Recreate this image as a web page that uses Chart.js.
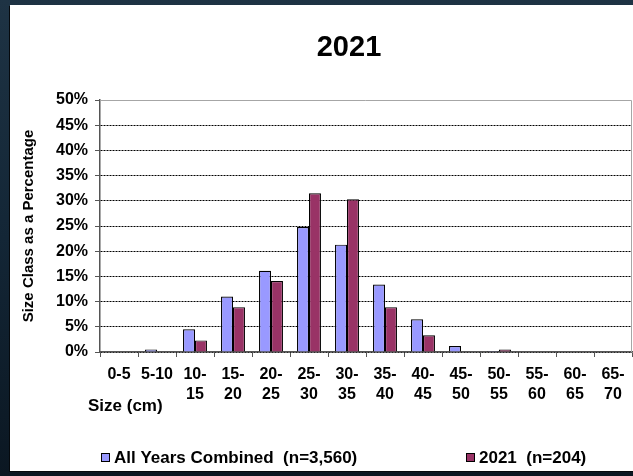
<!DOCTYPE html>
<html><head><meta charset="utf-8">
<script src="https://cdn.jsdelivr.net/npm/chart.js@4/dist/chart.umd.min.js"></script>
<style>
html,body{margin:0;padding:0;width:633px;height:476px;overflow:hidden;}
body{position:relative;background:linear-gradient(180deg,#1e3344 0%,#132636 50%,#0b1722 100%);}
#panel{position:absolute;left:10px;top:5px;width:678px;height:466px;background:#fff;box-shadow:-1px 1px 0 #05090d;}
canvas{display:block}
</style></head><body>
<div id="panel"><canvas id="c" width="678" height="466"></canvas></div>
<script>
const chartTitle = "2021";
const categories = [["0-5"],["5-10"],["10-","15"],["15-","20"],["20-","25"],["25-","30"],["30-","35"],["35-","40"],["40-","45"],["45-","50"],["50-","55"],["55-","60"],["60-","65"],["65-","70"]];
const allYearsLabel = "All Years Combined  (n=3,560)";
const allYears = [0, 0.5, 4.5, 11.0, 16.1, 24.8, 21.3, 13.4, 6.5, 1.2, 0.2, 0, 0, 0];
const year2021Label = "2021  (n=204)";
const year2021 = [0, 0, 2.3, 8.9, 14.1, 31.5, 30.3, 8.9, 3.3, 0, 0.5, 0, 0, 0];
const yAxisTitle = "Size Class as a Percentage";
const xAxisTitle = "Size (cm)";
const yMax = 50, yStep = 5;

const FONT = '"Liberation Sans", Arial, sans-serif';

const extras = {
  id: 'extras',
  beforeDatasetsDraw(chart) {
    const a = chart.chartArea, ctx = chart.ctx;
    ctx.save();
    ctx.strokeStyle = '#a6a6a6';
    ctx.lineWidth = 1;
    ctx.beginPath();
    ctx.moveTo(a.left, Math.round(a.top) + 0.5);
    ctx.lineTo(Math.round(a.right) - 0.5, Math.round(a.top) + 0.5);
    ctx.lineTo(Math.round(a.right) - 0.5, a.bottom);
    ctx.stroke();
    ctx.restore();
  },
  afterDraw(chart) {
    const a = chart.chartArea, ctx = chart.ctx;
    ctx.save();
    ctx.fillStyle = '#000';
    ctx.textBaseline = 'middle';
    // chart title
    ctx.textAlign = 'center';
    ctx.font = 'bold 29px ' + FONT;
    ctx.fillText(chartTitle, chart.width / 2, 43);
    // x axis title
    ctx.textAlign = 'left';
    ctx.font = 'bold 17px ' + FONT;
    ctx.fillText(xAxisTitle, a.left - 12, a.bottom + 54);
    // legend
    const ds = chart.data.datasets;
    const xs = [a.left + 1, a.left + 366];
    const ly = a.bottom + 106;
    ds.forEach((d, i) => {
      ctx.fillStyle = d.backgroundColor;
      ctx.fillRect(xs[i] + 0.5, ly - 4.5, 8, 8);
      ctx.strokeStyle = '#000';
      ctx.lineWidth = 1;
      ctx.strokeRect(xs[i] + 0.5, ly - 4.5, 8, 8);
      ctx.fillStyle = '#000';
      ctx.font = 'bold 17px ' + FONT;
      ctx.fillText(d.label, xs[i] + 13, ly);
    });
    ctx.restore();
  }
};

new Chart(document.getElementById('c'), {
  type: 'bar',
  data: {
    labels: categories,
    datasets: [
      {label: allYearsLabel, data: allYears, backgroundColor: '#9999FF', borderColor: '#000', borderWidth: 1.2},
      {label: year2021Label, data: year2021, backgroundColor: '#993366', borderColor: '#000', borderWidth: 1.2}
    ]
  },
  options: {
    responsive: false,
    animation: false,
    devicePixelRatio: 1,
    layout: {padding: {top: 95, left: 0, right: 56, bottom: 58}},
    datasets: {bar: {categoryPercentage: 0.63, barPercentage: 1.0}},
    plugins: {
      legend: {display: false},
      tooltip: {enabled: false},
      title: {display: false}
    },
    scales: {
      x: {
        grid: {offset: true, drawOnChartArea: false, drawTicks: true, tickLength: 5, tickColor: '#555', lineWidth: 1},
        border: {display: true, color: '#555', width: 1.5},
        ticks: {color: '#000', font: {family: FONT, size: 16, weight: 'bold', lineHeight: '20px'}, padding: 8, maxRotation: 0, minRotation: 0, autoSkip: false}
      },
      y: {
        min: 0, max: yMax,
        afterFit(scale) { scale.width = 90; },
        grid: {color: (c) => (c.tick && c.tick.value === yMax) ? 'rgba(0,0,0,0)' : '#000', lineWidth: 1, tickLength: 5, tickColor: '#555', drawTicks: true},
        border: {display: true, color: '#555', width: 1.5, dash: [2, 1]},
        ticks: {stepSize: yStep, color: '#000', padding: 7, font: {family: FONT, size: 16, weight: 'bold'}, callback: (v) => v + '%'},
        title: {display: true, text: yAxisTitle, color: '#000', font: {family: FONT, size: 15, weight: 'bold', lineHeight: 1.2}, padding: {top: 10, bottom: 0}}
      }
    }
  },
  plugins: [extras]
});
</script>
</body></html>
